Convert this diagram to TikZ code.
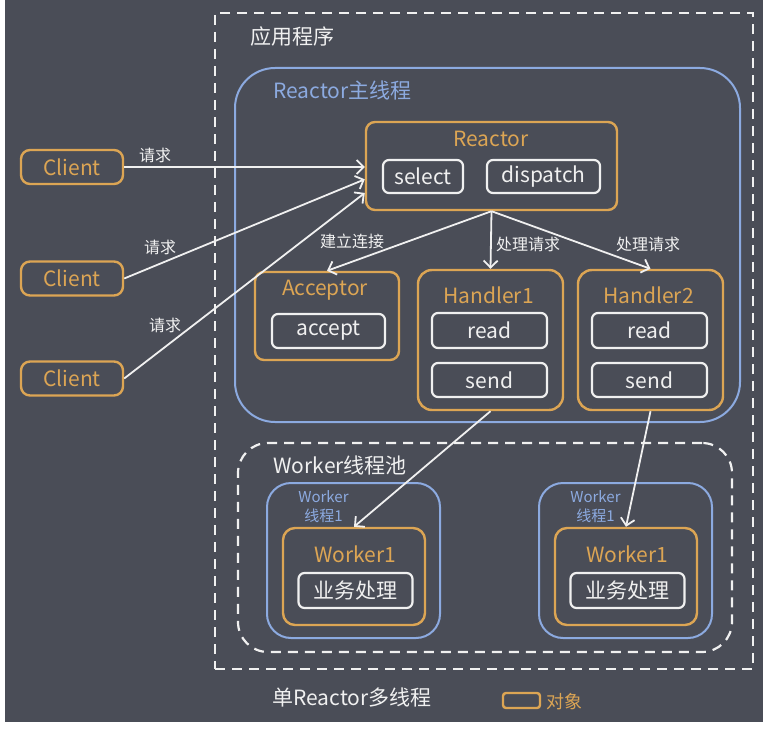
\documentclass[tikz,border=0pt]{standalone}
\usepackage{fontspec}
\setmainfont{Noto Sans CJK SC}
\usetikzlibrary{arrows.meta}
\definecolor{bgslate}{RGB}{74,77,87}
\definecolor{objorange}{RGB}{220,165,84}
\definecolor{threadblue}{RGB}{140,170,224}
\definecolor{textwhite}{RGB}{240,240,240}

\begin{document}
\begin{tikzpicture}[x=1pt, y=-1pt,
    box/.style={rectangle, inner sep=0pt},
    object/.style={box, draw=objorange, line width=2.4pt, rounded corners=9pt},
    method/.style={box, draw=textwhite, line width=2.2pt, rounded corners=6pt, text=textwhite,
                   font=\fontsize{21}{24}\selectfont},
    thread/.style={box, draw=threadblue, line width=2pt},
    region/.style={box, draw=textwhite, line width=2.2pt, dash pattern=on 10pt off 7pt},
    title/.style={text=objorange, font=\fontsize{21}{24}\selectfont},
    heading/.style={text=textwhite, font=\fontsize{21}{24}\selectfont},
    note/.style={text=textwhite, font=\fontsize{16}{18}\selectfont},
    flow/.style={draw=textwhite, line width=1.8pt,
                 -{Straight Barb[length=7pt, width=14pt, line width=1.8pt]}}]
  % A handler with its two operations: #1 = number, #2 = x-coordinate of its center.
  \newcommand{\handlerbox}[2]{%
    \node[object, rounded corners=14pt, minimum width=145, minimum height=140] (handler#1) at (#2,340) {};
    \node[title] (handlertitle#1) at (#2-2,295) {Handler#1};
    \node[method, minimum width=115, minimum height=35] (read#1) at (#2-1,330.5) {read};
    \node[method, minimum width=115, minimum height=34] (send#1) at (#2-1,380) {send};}
  % A worker thread of the pool: #1 = number, #2 = x-coordinate of the center of the blue box.
  % The orange object inside it is always called Worker1, as in the drawing.
  \newcommand{\workerthread}[2]{%
    \node[thread, rounded corners=24pt, minimum width=173, minimum height=155] (thread#1) at (#2,560.5) {};
    \node[text=threadblue, align=center, font=\fontsize{15}{19}\selectfont] (threadlabel#1) at (#2-30,506.5) {Worker\\线程1};
    \node[object, rounded corners=12pt, minimum width=142, minimum height=97] (worker#1) at (#2+0.5,576.5) {};
    \node[title] (workertitle#1) at (#2+1.5,554) {Worker1};
    \node[method, minimum width=114, minimum height=35] (task#1) at (#2+2,590.5) {业务处理};}

  \useasboundingbox (0,0) rectangle (771,733);
  \fill[white] (0,0) rectangle (771,733);
  \fill[bgslate] (5,0) rectangle (763,722);

  % application and reactor main thread
  \node[region, minimum width=538, minimum height=656] (app) at (484,341) {};
  \node[heading] (apptitle) at (292,37) {应用程序};
  \node[thread, rounded corners=40pt, minimum width=505, minimum height=354] (mainthread) at (487.5,245) {};
  \node[anchor=west, text=threadblue, font=\fontsize{21}{24}\selectfont] (maintitle) at (270,90) {Reactor主线程};

  \node[object, minimum width=251, minimum height=88] (reactor) at (491.5,166) {};
  \node[title] (reactortitle) at (491,139) {Reactor};
  \node[method, minimum width=80, minimum height=33] (select) at (423,176.5) {select};
  \node[method, minimum width=113, minimum height=33] (dispatch) at (543.5,176.5) {dispatch};

  \node[object, minimum width=144, minimum height=88] (acceptor) at (327,316) {};
  \node[title] (acceptortitle) at (325,290) {Acceptor};
  \node[method, minimum width=113, minimum height=34] (accept) at (328.5,331) {accept};

  \handlerbox{1}{490.5}
  \handlerbox{2}{650.5}

  % worker pool
  \node[region, rounded corners=30pt, minimum width=494, minimum height=209] (pool) at (485,547.5) {};
  \node[anchor=west, heading] (pooltitle) at (270,465) {Worker线程池};
  \workerthread{1}{353.5}
  \workerthread{2}{625.5}

  % clients
  \foreach \i/\y in {1/167, 2/278.5, 3/378.5}
    \node[object, title, minimum width=102, minimum height=34] (client\i) at (72,\y) {Client};

  % requests and dispatching
  \draw[flow] (client1) -- (client1 -| reactor.west);
  \draw[flow] (client2.east) -- (reactor.186);
  \draw[flow] (client3.east) -- (reactor.192);
  \draw[flow] (reactor.south) -- (acceptor.north);
  \draw[flow] (reactor.south) -- (handler1.north);
  \draw[flow] (reactor.south) -- (handler2.north);
  \draw[flow] (handler1.south) -- (worker1.north);
  \draw[flow] (handler2.south) -- (worker2.north);

  \node[note] (req1) at (155,155) {请求};
  \node[note] (req2) at (160,247) {请求};
  \node[note] (req3) at (165,325) {请求};
  \node[note] (connect) at (352,241) {建立连接};
  \node[note] (handle1) at (528,244) {处理请求};
  \node[note] (handle2) at (648,244) {处理请求};

  % caption and legend
  \node[heading] (caption) at (352,698) {单Reactor多线程};
  \node[object, rounded corners=3pt, minimum width=37, minimum height=15] (legendbox) at (521.5,700.5) {};
  \node[anchor=west, text=objorange, font=\fontsize{18}{20}\selectfont] (legendtext) at (543,702) {对象};
\end{tikzpicture}
\end{document}
